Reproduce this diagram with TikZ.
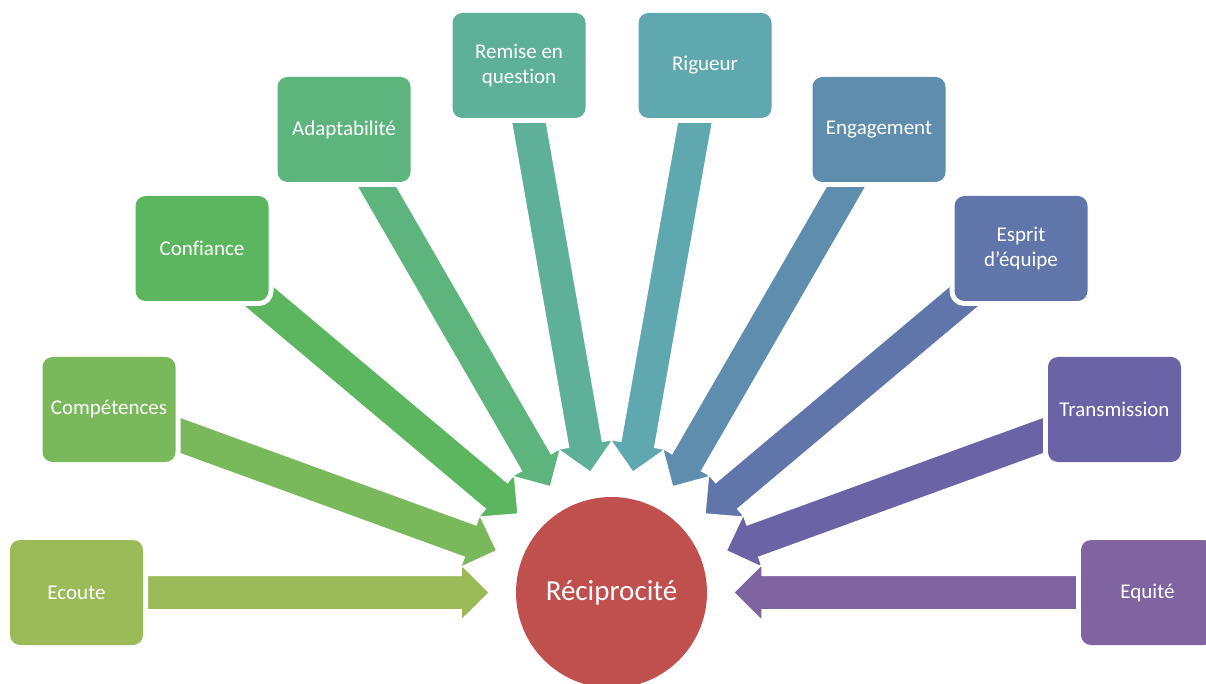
\documentclass[tikz,border=0pt]{standalone}
\usepackage{fontspec}
\setmainfont{Carlito}[Ligatures=NoCommon]
\usetikzlibrary{calc}
\pgfdeclarelayer{bg}
\pgfsetlayers{bg,main}
\definecolor{cEcoute}{HTML}{9BBB59}
\definecolor{cComp}{HTML}{7AB85C}
\definecolor{cConf}{HTML}{5CB65F}
\definecolor{cAdapt}{HTML}{5DB47D}
\definecolor{cRemise}{HTML}{5EB098}
\definecolor{cRig}{HTML}{5FA8AF}
\definecolor{cEng}{HTML}{5F8DAD}
\definecolor{cEsp}{HTML}{6075AA}
\definecolor{cTrans}{HTML}{6A64A6}
\definecolor{cEq}{HTML}{8064A2}
\definecolor{cHub}{HTML}{C0504D}
\newcommand\blockarrow[2]{%
  \filldraw[blk, fill=#2] let \p1=($(#1.center)-(hub.center)$),
    \n1={atan2(\y1,\x1)}, \n2={\n1+90} in
    ($(#1.center)+(\n2:17.25pt)$)
    -- ($(hub.center)+(\n1:150.5pt)+(\n2:17.25pt)$)
    -- ($(hub.center)+(\n1:150.5pt)+(\n2:28.25pt)$)
    -- ($(hub.center)+(\n1:122pt)$)
    -- ($(hub.center)+(\n1:150.5pt)+(\n2:-28.25pt)$)
    -- ($(hub.center)+(\n1:150.5pt)+(\n2:-17.25pt)$)
    -- ($(#1.center)+(\n2:-17.25pt)$) -- cycle;}
\begin{document}
\begin{tikzpicture}[x=1pt,y=1pt,
  box/.style={rectangle, rounded corners=10pt, preaction={draw=white, line width=10pt},
    minimum width=133pt, minimum height=105pt, inner sep=0pt, text=white,
    font=\fontsize{21}{24.5}\selectfont, align=center},
  hub/.style={circle, fill=cHub, minimum size=191pt, inner sep=0pt, text=white,
    font=\fontsize{29}{34}\selectfont},
  blk/.style={draw=white, line width=1.5pt, line join=miter}]
\useasboundingbox (0,0) rectangle (1206,683);
\node[hub] (hub) at (611.5,90.5) {Réciprocité};
\node[box, fill=cEcoute] (ecoute) at (76.5,90.5) {Ecoute};
\node[box, fill=cComp] (comp) at (109,273.5) {Compétences};
\node[box, fill=cConf] (conf) at (202,434.5) {Confiance};
\node[box, fill=cAdapt] (adapt) at (344,553.5) {Adaptabilité};
\node[box, fill=cRemise] (remise) at (519,617.5) {Remise en\\question};
\node[box, fill=cRig] (rig) at (705,617.5) {Rigueur};
\node[box, fill=cEng] (eng) at (879,553.5) {Engagement};
\node[box, fill=cEsp] (esp) at (1021,434.5) {Esprit\\d’équipe};
\node[box, fill=cTrans] (trans) at (1114.5,273.5) {Transmission};
\node[box, fill=cEq] (eq) at (1147.5,90.5) {Equité};
\begin{pgfonlayer}{bg}
\blockarrow{ecoute}{cEcoute}
\blockarrow{comp}{cComp}
\blockarrow{conf}{cConf}
\blockarrow{adapt}{cAdapt}
\blockarrow{remise}{cRemise}
\blockarrow{rig}{cRig}
\blockarrow{eng}{cEng}
\blockarrow{esp}{cEsp}
\blockarrow{trans}{cTrans}
\blockarrow{eq}{cEq}
\end{pgfonlayer}
\end{tikzpicture}
\end{document}
